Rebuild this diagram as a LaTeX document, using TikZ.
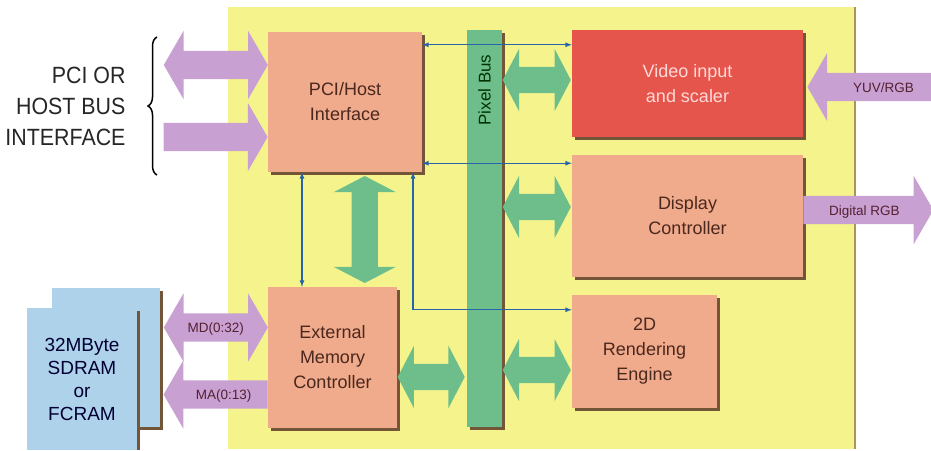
\documentclass[tikz,border=0pt]{standalone}
\usepackage{fontspec}
\setmainfont{Liberation Sans}
\newfontfamily\narrowfont{Liberation Sans}[FakeStretch=0.91]
\usepackage{tikz}
\usetikzlibrary{calc,arrows,shapes.arrows,decorations.pathreplacing,backgrounds}

\definecolor{chip}{RGB}{245,244,140}
\definecolor{salmon}{RGB}{240,170,140}
\definecolor{vidred}{RGB}{230,85,75}
\definecolor{busgreen}{RGB}{110,190,140}
\definecolor{hostpurple}{RGB}{200,160,210}
\definecolor{ramblue}{RGB}{175,210,235}
\definecolor{sigblue}{RGB}{40,100,170}
\definecolor{shadowbrown}{RGB}{115,85,55}
\definecolor{ink}{RGB}{75,40,30}

\tikzset{
  blk/.style={fill=salmon,text=ink,align=center,inner sep=0pt,font=\fontsize{18}{25}\selectfont},
  ram/.style={fill=ramblue,text=black!80!blue,align=center,inner sep=0pt,font=\fontsize{19}{23}\selectfont},
  hostsingle/.style={single arrow,fill=hostpurple,single arrow head extend=20pt,single arrow tip angle=120,inner sep=0pt,text height=19pt,text depth=9pt,text=ink!80!violet,font=\fontsize{13.5}{14}\selectfont},
  hostdouble/.style={double arrow,fill=hostpurple,double arrow head extend=20pt,double arrow tip angle=120,inner sep=0pt,text height=19pt,text depth=9pt,text=ink!80!violet,font=\fontsize{13.5}{14}\selectfont},
  busdouble/.style={double arrow,fill=busgreen,double arrow head extend=18pt,double arrow tip angle=125,inner sep=0pt,text height=13pt,text depth=13pt},
  sig/.style={draw=sigblue,line width=1.2pt,latex-latex}
}

\begin{document}
\begin{tikzpicture}[x=1pt,y=-1pt]
\useasboundingbox (0,0) rectangle (931,450);

% pixel bus
\node[fill=busgreen,minimum width=35pt,minimum height=397pt,inner sep=0pt] (bus) at (484.5,228.5) {};
\node[rotate=90,font=\fontsize{17}{17}\selectfont,text=black!80!green] (busl) at (484.5,90) {Pixel Bus};

% blocks
\node[blk,minimum width=154pt,minimum height=140pt] (pci) at (345,102) {PCI/Host\\Interface};
\node[blk,fill=vidred,text=red!15!white,minimum width=231pt,minimum height=107pt] (video) at (687.5,83.5) {Video input\\and scaler};
\node[blk,minimum width=231pt,minimum height=122pt] (disp) at (687.5,216) {Display\\Controller};
\node[blk,minimum width=145pt,minimum height=113pt] (rend) at (644.5,351.5) {2D\\Rendering\\Engine};
\node[blk,minimum width=129pt,minimum height=141pt] (emc) at (332.5,357.5) {External\\Memory\\Controller};

% memory chips
\node[ram,minimum width=108pt,minimum height=139pt] (ramb) at (106,357.5) {};
\node[ram,minimum width=110pt,minimum height=142pt] (ram) at (82,379) {32MByte\\SDRAM\\or\\FCRAM};
\draw[shadowbrown,line width=3pt] ([xshift=1.5pt,yshift=-3pt]ram.north east) -- ([xshift=1.5pt]ram.south east);

% chip area and shadows
\begin{pgfonlayer}{background}
\fill[chip] (228,7) rectangle (855,449);
\draw[shadowbrown!60!chip,line width=2pt] (855,7) -- (855,449);
\foreach \n in {bus,pci,video,disp,rend,emc,ramb}
  \fill[shadowbrown] ([shift={(3pt,-3pt)}]\n.south west) rectangle ([shift={(3pt,-3pt)}]\n.north east);
\end{pgfonlayer}

% green bus arrows
\foreach \b/\dy in {video/-3.5,disp/-9,rend/18.5}
  \path (\b.west) ++(-35,\dy) node[busdouble,minimum height=68pt] (g\b) {};
\path (emc.east) ++(34,19.5) node[busdouble,minimum height=67pt] (gemc) {};
\path ($(pci.south)!.5!(emc.north)$) ++(26,0) node[busdouble,shape border rotate=90,text width=26pt,minimum height=107pt] (gpe) {};

% control lines
\draw[sig] ([yshift=-13pt]pci.north east) -- ([yshift=-13pt]pci.north east -| video.west);
\draw[sig] ([yshift=9pt]pci.south east) -- ([yshift=9pt]pci.south east -| disp.west);
\draw[sig] ([xshift=-43pt]pci.south) -- ([xshift=-43pt]pci.south |- emc.north);
\draw[sig] ([xshift=68pt]pci.south) |- ([yshift=-15pt]rend.north west);

% host and memory busses
\path ($(pci.west)+(-52,-37)$) node[hostdouble,minimum height=104pt] (hbus) {};
\path ($(pci.west)+(0,35)$) node[hostsingle,minimum height=104pt,anchor=tip] (hin) {};
\path ($(emc.west)+(-52,-30)$) node[hostdouble,minimum height=104pt] (md) {MD(0:32)};
\path ($(emc.west)+(0,37)$) node[hostsingle,shape border rotate=180,minimum height=104pt,anchor=tail] (ma) {\hspace{8pt}MA(0:13)};
\path ($(video.east)+(4,3.5)$) node[hostsingle,shape border rotate=180,minimum height=130pt,anchor=tip] (yuv) {\hspace{14pt}YUV/RGB};
\path ($(disp.east)+(0,-6)$) node[hostsingle,minimum height=130pt,anchor=tail] (drgb) {Digital RGB\hspace{4pt}};

% host bus label
\draw[line width=1.5pt,decorate,decoration={brace,amplitude=9pt}] (157,175) -- (157,37) coordinate[midway] (br);
\node[anchor=east,align=right,font=\narrowfont\fontsize{23.5}{31}\selectfont,text=black!85] (hostl) at (129,106) {PCI OR\\HOST BUS\\INTERFACE};
\end{tikzpicture}
\end{document}
